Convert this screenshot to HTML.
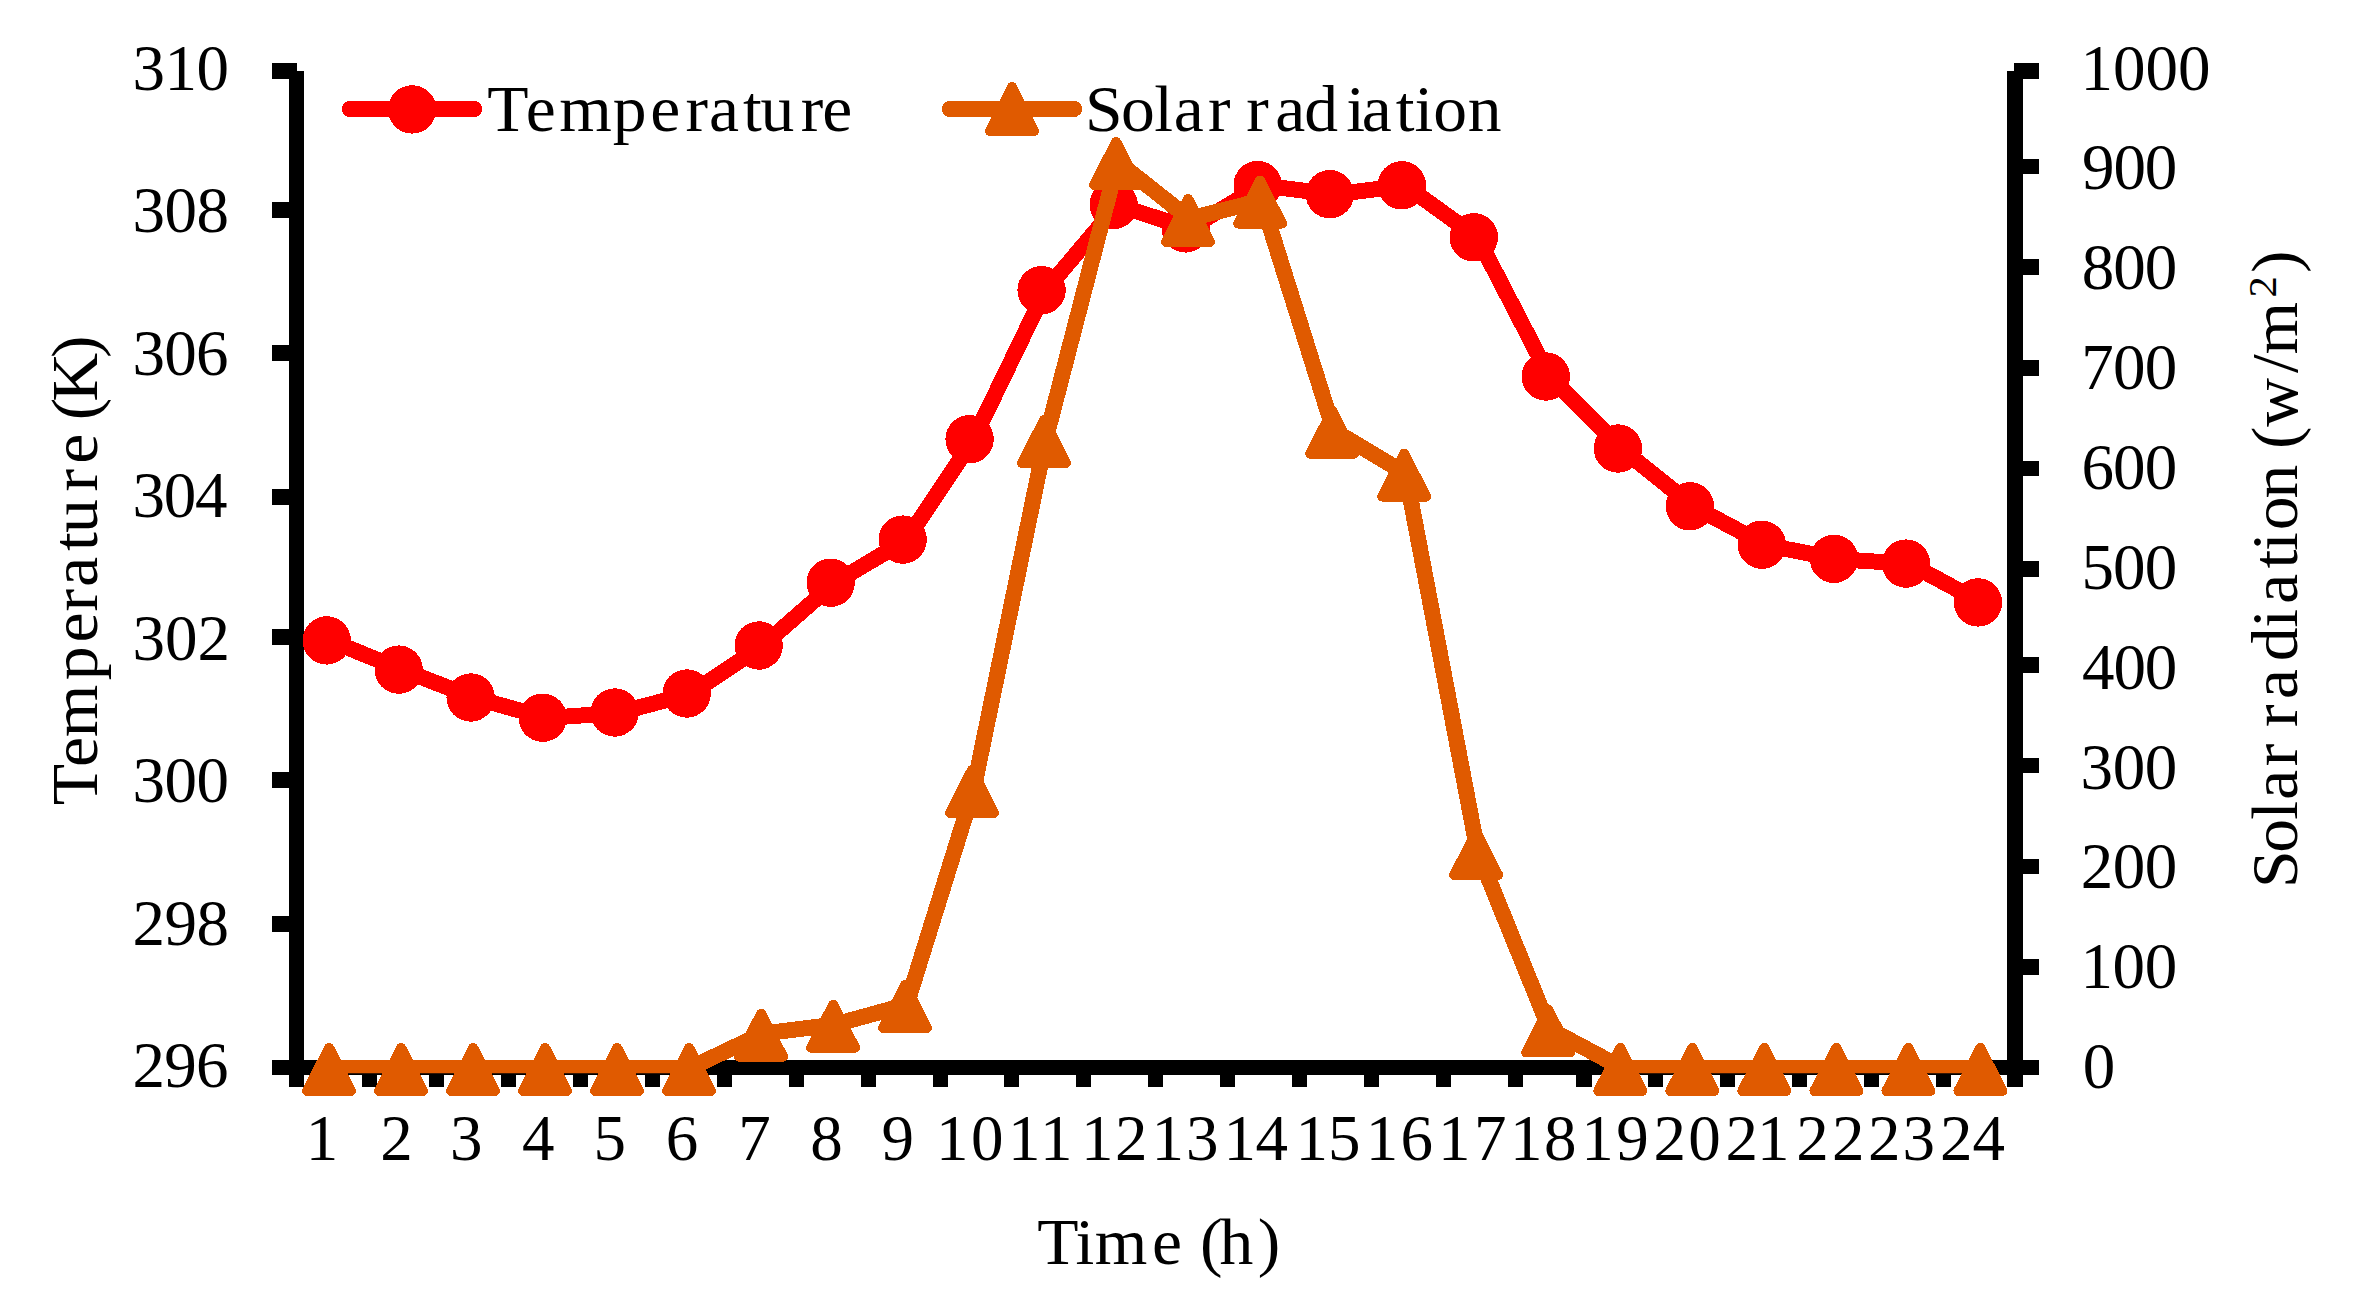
<!DOCTYPE html>
<html lang="en"><head><meta charset="utf-8"><title>Temperature and solar radiation</title>
<style>html,body{margin:0;padding:0;background:#fff}body{width:2361px;height:1305px;overflow:hidden}svg{display:block}line,circle,path,polyline{shape-rendering:crispEdges}text{font-family:"Liberation Serif", serif;fill:#000;font-size:65px;white-space:pre}</style>
</head><body>
<svg width="2361" height="1305" viewBox="0 0 2361 1305">
<rect width="2361" height="1305" fill="#fff"/>
<g fill="#000" shape-rendering="crispEdges">
<rect x="289" y="71" width="15" height="1015.8"/>
<rect x="2007" y="71" width="16" height="1015.8"/>
<rect x="272" y="1059.8" width="1767.3" height="15.1"/>
<rect x="272" y="63.0" width="25" height="15.8"/>
<rect x="272" y="202.2" width="25" height="15.8"/>
<rect x="272" y="345.3" width="25" height="15.8"/>
<rect x="272" y="489.2" width="25" height="15.8"/>
<rect x="272" y="628.7" width="25" height="15.8"/>
<rect x="272" y="771.9" width="25" height="15.8"/>
<rect x="272" y="915.7" width="25" height="15.8"/>
<rect x="2014" y="63.0" width="25.3" height="15.8"/>
<rect x="2014" y="158.6" width="25.3" height="15.8"/>
<rect x="2014" y="259.4" width="25.3" height="15.8"/>
<rect x="2014" y="360.0" width="25.3" height="15.8"/>
<rect x="2014" y="460.5" width="25.3" height="15.8"/>
<rect x="2014" y="561.1" width="25.3" height="15.8"/>
<rect x="2014" y="656.7" width="25.3" height="15.8"/>
<rect x="2014" y="757.6" width="25.3" height="15.8"/>
<rect x="2014" y="858.6" width="25.3" height="15.8"/>
<rect x="2014" y="959.3" width="25.3" height="15.8"/>
<rect x="361.6" y="1067" width="15.2" height="19.8"/>
<rect x="428.6" y="1067" width="15.2" height="19.8"/>
<rect x="500.6" y="1067" width="15.2" height="19.8"/>
<rect x="572.6" y="1067" width="15.2" height="19.8"/>
<rect x="644.6" y="1067" width="15.2" height="19.8"/>
<rect x="716.6" y="1067" width="15.2" height="19.8"/>
<rect x="788.6" y="1067" width="15.2" height="19.8"/>
<rect x="860.6" y="1067" width="15.2" height="19.8"/>
<rect x="932.6" y="1067" width="15.2" height="19.8"/>
<rect x="1003.9" y="1067" width="15.2" height="19.8"/>
<rect x="1075.9" y="1067" width="15.2" height="19.8"/>
<rect x="1148.0" y="1067" width="15.2" height="19.8"/>
<rect x="1220.0" y="1067" width="15.2" height="19.8"/>
<rect x="1292.1" y="1067" width="15.2" height="19.8"/>
<rect x="1364.1" y="1067" width="15.2" height="19.8"/>
<rect x="1436.2" y="1067" width="15.2" height="19.8"/>
<rect x="1508.2" y="1067" width="15.2" height="19.8"/>
<rect x="1576.3" y="1067" width="15.2" height="19.8"/>
<rect x="1648.1" y="1067" width="15.2" height="19.8"/>
<rect x="1720.0" y="1067" width="15.2" height="19.8"/>
<rect x="1791.8" y="1067" width="15.2" height="19.8"/>
<rect x="1863.7" y="1067" width="15.2" height="19.8"/>
<rect x="1935.5" y="1067" width="15.2" height="19.8"/>
</g>
<defs><clipPath id="pc"><rect x="0" y="0" width="2361" height="1073.2"/></clipPath></defs>
<g clip-path="url(#pc)"><polyline points="330.4,640.7 402.4,669.9 474.4,697.8 546.4,718.0 618.4,712.8 690.4,693.8 762.4,645.8 834.4,583.0 906.4,539.9 973.3,439.5 1045.3,290.5 1117.4,205.1 1189.4,228.7 1261.4,185.3 1333.5,194.5 1405.5,185.6 1477.5,237.6 1549.5,376.8 1621.6,448.8 1693.6,506.6 1765.6,545.0 1837.7,559.1 1909.7,563.9 1981.7,602.7" fill="none" stroke="#ff0000" stroke-width="16" stroke-linejoin="round" stroke-linecap="round"/></g>
<g fill="#ff0000">
<circle cx="326.7" cy="640.4" r="24.2"/>
<circle cx="398.7" cy="669.6" r="24.2"/>
<circle cx="470.7" cy="697.5" r="24.2"/>
<circle cx="542.7" cy="717.7" r="24.2"/>
<circle cx="614.7" cy="712.5" r="24.2"/>
<circle cx="686.7" cy="693.5" r="24.2"/>
<circle cx="758.7" cy="645.5" r="24.2"/>
<circle cx="830.7" cy="582.7" r="24.2"/>
<circle cx="902.7" cy="539.6" r="24.2"/>
<circle cx="969.6" cy="439.2" r="24.2"/>
<circle cx="1041.6" cy="290.2" r="24.2"/>
<circle cx="1113.7" cy="204.8" r="24.2"/>
<circle cx="1185.7" cy="228.4" r="24.2"/>
<circle cx="1257.7" cy="185.0" r="24.2"/>
<circle cx="1329.8" cy="194.2" r="24.2"/>
<circle cx="1401.8" cy="185.3" r="24.2"/>
<circle cx="1473.8" cy="237.3" r="24.2"/>
<circle cx="1545.8" cy="376.5" r="24.2"/>
<circle cx="1617.9" cy="448.5" r="24.2"/>
<circle cx="1689.9" cy="506.3" r="24.2"/>
<circle cx="1761.9" cy="544.7" r="24.2"/>
<circle cx="1834.0" cy="558.8" r="24.2"/>
<circle cx="1906.0" cy="563.6" r="24.2"/>
<circle cx="1978.0" cy="602.4" r="24.2"/>
</g>
<g clip-path="url(#pc)"><polyline points="330.6,1067.8 402.6,1067.8 474.6,1067.8 546.6,1067.8 618.6,1067.8 690.6,1067.8 762.6,1033.6 834.6,1024.6 906.6,1004.8 973.5,789.7 1045.5,439.9 1117.6,161.8 1189.6,218.8 1261.6,200.4 1333.7,430.6 1405.7,473.5 1477.7,851.9 1549.7,1029.3 1621.8,1067.8 1693.8,1067.8 1765.8,1067.8 1837.9,1067.8 1909.9,1067.8 1981.9,1067.8" fill="none" stroke="#e05a00" stroke-width="16" stroke-linejoin="round" stroke-linecap="round"/></g>
<g fill="#e05a00" stroke="#e05a00" stroke-width="10" stroke-linejoin="round">
<path d="M329.1 1047.9 L351.1 1090.9 L307.1 1090.9Z"/>
<path d="M401.1 1047.9 L423.1 1090.9 L379.1 1090.9Z"/>
<path d="M473.1 1047.9 L495.1 1090.9 L451.1 1090.9Z"/>
<path d="M545.1 1047.9 L567.1 1090.9 L523.1 1090.9Z"/>
<path d="M617.1 1047.9 L639.1 1090.9 L595.1 1090.9Z"/>
<path d="M689.1 1047.9 L711.1 1090.9 L667.1 1090.9Z"/>
<path d="M761.1 1013.7 L783.1 1056.7 L739.1 1056.7Z"/>
<path d="M833.1 1004.7 L855.1 1047.7 L811.1 1047.7Z"/>
<path d="M905.1 984.9 L927.1 1027.9 L883.1 1027.9Z"/>
<path d="M972.0 769.8 L994.0 812.8 L950.0 812.8Z"/>
<path d="M1044.0 420.0 L1066.0 463.0 L1022.0 463.0Z"/>
<path d="M1116.1 141.9 L1138.1 184.9 L1094.1 184.9Z"/>
<path d="M1188.1 198.9 L1210.1 241.9 L1166.1 241.9Z"/>
<path d="M1260.1 180.5 L1282.1 223.5 L1238.1 223.5Z"/>
<path d="M1332.2 410.7 L1354.2 453.7 L1310.2 453.7Z"/>
<path d="M1404.2 453.6 L1426.2 496.6 L1382.2 496.6Z"/>
<path d="M1476.2 832.0 L1498.2 875.0 L1454.2 875.0Z"/>
<path d="M1548.2 1009.4 L1570.2 1052.4 L1526.2 1052.4Z"/>
<path d="M1620.3 1047.9 L1642.3 1090.9 L1598.3 1090.9Z"/>
<path d="M1692.3 1047.9 L1714.3 1090.9 L1670.3 1090.9Z"/>
<path d="M1764.3 1047.9 L1786.3 1090.9 L1742.3 1090.9Z"/>
<path d="M1836.4 1047.9 L1858.4 1090.9 L1814.4 1090.9Z"/>
<path d="M1908.4 1047.9 L1930.4 1090.9 L1886.4 1090.9Z"/>
<path d="M1980.4 1047.9 L2002.4 1090.9 L1958.4 1090.9Z"/>
</g>
<line x1="349.9" y1="109" x2="474.2" y2="109" stroke="#ff0000" stroke-width="16" stroke-linecap="round"/>
<circle cx="412.1" cy="109.4" r="24.2" fill="#ff0000"/>
<line x1="949.9" y1="109" x2="1074.1" y2="109" stroke="#e05a00" stroke-width="16" stroke-linecap="round"/>
<path d="M1012 86.9 L1034.1 131 L989.9 131Z" fill="#e05a00" stroke="#e05a00" stroke-width="10" stroke-linejoin="round"/>
<text transform="scale(1.0400,1)" x="468.6 505.6 537.7 589.3 625.3 659.2 681.8 714.4 731.3 769.9 790.6" y="130.6">Temperature</text>
<text transform="scale(1.0400,1)" x="1043.2 1077.9 1109.9 1128.7 1161.5 1183.1 1198.4 1226.1 1254.1 1294.4 1309.4 1342.0 1360.0 1378.2 1411.4" y="130.6">Solar radiation</text>
<text x="132.4 164.4 196.5" y="89.5">310</text>
<text x="132.4 164.4 196.5" y="232.0">308</text>
<text x="132.4 164.2 195.9" y="374.6">306</text>
<text x="132.4 163.7 195.0" y="517.1">304</text>
<text x="132.4 165.0 197.6" y="659.7">302</text>
<text x="132.4 164.4 196.5" y="802.2">300</text>
<text x="132.6 164.6 196.5" y="944.7">298</text>
<text x="132.6 164.3 195.9" y="1087.3">296</text>
<text x="2080.5 2113.0 2145.5 2178.0" y="89.6">1000</text>
<text x="2082.1 2113.4 2144.8" y="189.4">900</text>
<text x="2081.7 2113.2 2144.8" y="289.3">800</text>
<text x="2081.2 2113.0 2144.8" y="389.1">700</text>
<text x="2081.4 2113.1 2144.8" y="489.0">600</text>
<text x="2081.4 2113.1 2144.8" y="588.9">500</text>
<text x="2081.9 2113.4 2144.8" y="688.7">400</text>
<text x="2080.6 2112.7 2144.8" y="788.5">300</text>
<text x="2080.8 2112.8 2144.8" y="888.4">200</text>
<text x="2080.4 2112.6 2144.8" y="988.2">100</text>
<text x="2082.8" y="1088.1">0</text>
<text x="305.8" y="1159.5">1</text>
<text x="380.2" y="1159.5">2</text>
<text x="450.1" y="1159.5">3</text>
<text x="522.1" y="1159.5">4</text>
<text x="593.4" y="1159.5">5</text>
<text x="665.7" y="1159.5">6</text>
<text x="738.3" y="1159.5">7</text>
<text x="810.2" y="1159.5">8</text>
<text x="881.4" y="1159.5">9</text>
<text x="935.9 971.0" y="1159.5">10</text>
<text x="1008.0 1040.1" y="1159.5">11</text>
<text x="1081.0 1115.0" y="1159.5">12</text>
<text x="1151.4 1186.0" y="1159.5">13</text>
<text x="1223.5 1255.5" y="1159.5">14</text>
<text x="1295.6 1328.0" y="1159.5">15</text>
<text x="1365.8 1400.4" y="1159.5">16</text>
<text x="1437.9 1473.9" y="1159.5">17</text>
<text x="1510.0 1544.0" y="1159.5">18</text>
<text x="1581.2 1616.3" y="1159.5">19</text>
<text x="1653.5 1688.2" y="1159.5">20</text>
<text x="1725.4 1756.9" y="1159.5">21</text>
<text x="1796.3 1832.1" y="1159.5">22</text>
<text x="1867.9 1902.6" y="1159.5">23</text>
<text x="1940.0 1972.4" y="1159.5">24</text>
<text transform="scale(1.0400,1)" x="997.3 1034.1 1052.7 1107.8 1136.7 1153.8 1172.7 1209.4" y="1263.8">Time (h)</text>
<text transform="translate(97.2,804.1) rotate(-90) scale(1.0400,1)" x="-1.2 35.6 64.4 119.0 155.3 185.1 209.0 243.4 260.7 300.7 327.2 356.0 369.2 386.8 428.9" y="0.0">Temperature (K)</text>
<text transform="translate(2297.2,883.6) rotate(-90) scale(1.0400,1)" x="-4.3 29.7 61.3 80.6 112.9 134.6 150.6 177.6 213.8 246.1 269.2 303.0 319.8 339.8 370.3 402.8 418.0 439.2 490.9 508.8" y="0">Solar radiation (w/m<tspan x="563.6" dy="-21" font-size="41">2</tspan><tspan x="587.2" dy="21">)</tspan></text>
</svg></body></html>
